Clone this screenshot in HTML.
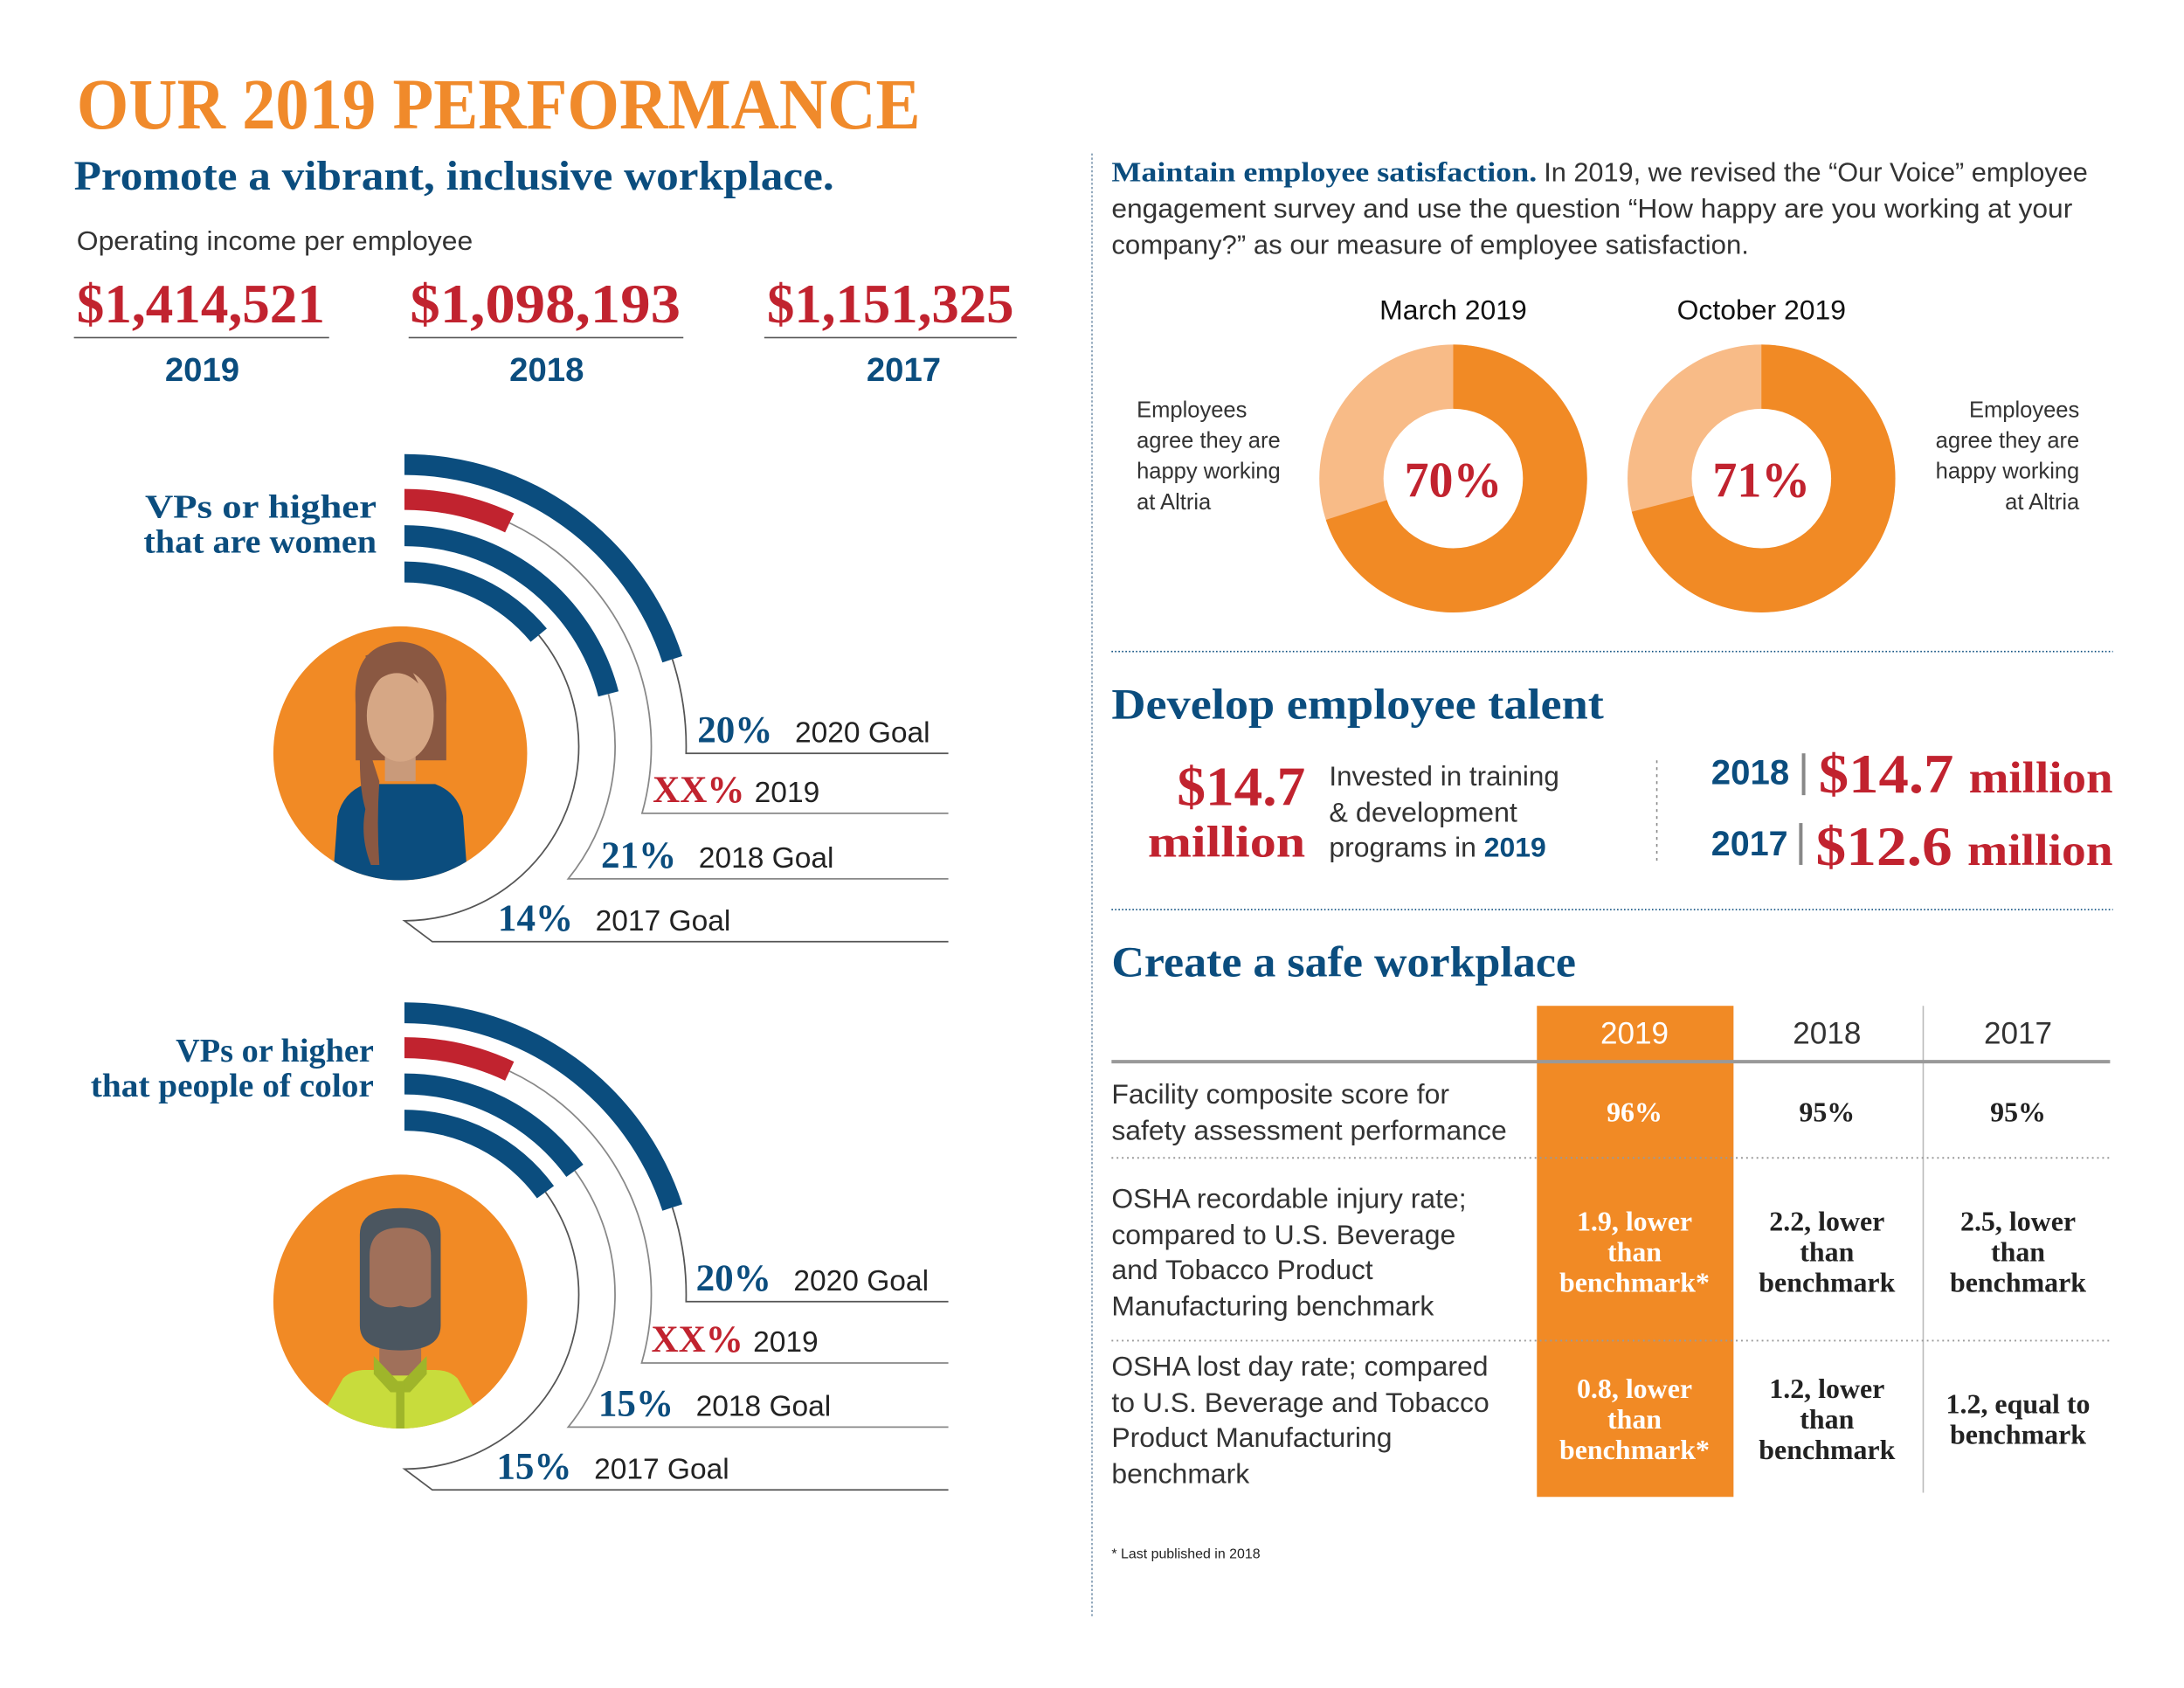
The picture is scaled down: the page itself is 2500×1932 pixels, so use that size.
<!DOCTYPE html>
<html><head><meta charset="utf-8"><style>
html,body{margin:0;padding:0;background:#fff;}
svg{display:block;}
.serif{font-family:"Liberation Serif",serif;font-weight:bold;}
.sans{font-family:"Liberation Sans",sans-serif;}
</style></head><body>
<svg id="root" width="2500" height="1932" viewBox="0 0 1566 1210" preserveAspectRatio="none" xmlns="http://www.w3.org/2000/svg">
<rect width="1566" height="1210" fill="#fff"/>
<text class="serif" x="55" y="92" font-size="52" fill="#F08A2B" textLength="605" lengthAdjust="spacingAndGlyphs">OUR 2019 PERFORMANCE</text>
<text class="serif" x="53" y="136" font-size="30" fill="#0B4D7E" textLength="545" lengthAdjust="spacingAndGlyphs">Promote a vibrant, inclusive workplace.</text>
<text class="sans" x="55" y="179" font-size="19" fill="#333" textLength="284" lengthAdjust="spacingAndGlyphs">Operating income per employee</text>
<g>
<text class="serif" x="55" y="231" font-size="40" fill="#C1232F" textLength="178" lengthAdjust="spacingAndGlyphs">$1,414,521</text>
<text class="serif" x="294" y="231" font-size="40" fill="#C1232F" textLength="194" lengthAdjust="spacingAndGlyphs">$1,098,193</text>
<text class="serif" x="550" y="231" font-size="40" fill="#C1232F" textLength="177" lengthAdjust="spacingAndGlyphs">$1,151,325</text>
<line x1="53" y1="242" x2="236" y2="242" stroke="#555" stroke-width="1"/>
<line x1="293" y1="242" x2="490" y2="242" stroke="#555" stroke-width="1"/>
<line x1="548" y1="242" x2="729" y2="242" stroke="#555" stroke-width="1"/>
<text class="sans" font-weight="bold" x="145" y="273" font-size="24" fill="#0B4D7E" text-anchor="middle">2019</text>
<text class="sans" font-weight="bold" x="392" y="273" font-size="24" fill="#0B4D7E" text-anchor="middle">2018</text>
<text class="sans" font-weight="bold" x="648" y="273" font-size="24" fill="#0B4D7E" text-anchor="middle">2017</text>
</g>
<text class="serif" x="270" y="371" font-size="24" fill="#0B4D7E" text-anchor="end" textLength="166" lengthAdjust="spacingAndGlyphs">VPs or higher</text>
<text class="serif" x="270" y="396" font-size="24" fill="#0B4D7E" text-anchor="end" textLength="167" lengthAdjust="spacingAndGlyphs">that are women</text>
<text class="serif" x="268" y="761" font-size="24" fill="#0B4D7E" text-anchor="end" textLength="142" lengthAdjust="spacingAndGlyphs">VPs or higher</text>
<text class="serif" x="268" y="786" font-size="24" fill="#0B4D7E" text-anchor="end" textLength="203" lengthAdjust="spacingAndGlyphs">that people of color</text>
<defs>
<clipPath id="c1"><circle cx="287" cy="540" r="91"/></clipPath>
<clipPath id="c2"><circle cx="287" cy="933" r="91"/></clipPath>
</defs>
<g>
<circle cx="287" cy="540" r="91" fill="#F18A25"/>
<g clip-path="url(#c1)">
<path d="M255 505 Q252 462 287 460 Q322 462 320 505 L320 545 L255 545 Z" fill="#8A5842"/>
<rect x="276" y="535" width="22" height="25" fill="#C99A7A"/>
<path d="M238 640 L242 585 Q246 568 262 562 L312 562 Q328 568 332 585 L336 640 Z" fill="#0B4D7E"/>
<ellipse cx="287" cy="513" rx="24" ry="33" fill="#D6A785"/>
<path d="M262 470 Q287 460 300 490 Q285 475 268 490 Z" fill="#8A5842"/>
<path d="M259 520 Q256 560 262 580 Q258 600 266 620 L272 620 Q270 590 272 560 Z" fill="#8A5842"/>
</g>
</g>
<g>
<circle cx="287" cy="933" r="91" fill="#F18A25"/>
<g clip-path="url(#c2)">
<path d="M222 1030 L246 988 Q252 982 262 982 L312 982 Q322 982 328 988 L352 1030 Z" fill="#C8DC3C"/>
<rect x="272" y="960" width="30" height="26" fill="#A0705A"/>
<path d="M268 972 L287 992 L306 972 L306 985 L294 998 L280 998 L268 985 Z" fill="#9FB52A"/>
<rect x="284" y="990" width="6" height="40" fill="#9FB52A"/>
<path d="M258 885 Q258 866 287 866 Q316 866 316 885 L316 950 Q316 968 287 968 Q258 968 258 950 Z" fill="#4B5660"/>
<path d="M265 900 Q265 880 287 880 Q309 880 309 900 L309 930 Q300 940 287 936 Q274 940 265 930 Z" fill="#A0705A"/>
</g>
</g>
<g id="charts"></g>
<line x1="783" y1="110" x2="783" y2="1160" stroke="#7a95ad" stroke-width="1" stroke-dasharray="1.5,1.5"/>
<g>
<text class="serif" x="797" y="130" font-size="20" fill="#0B4D7E" textLength="305" lengthAdjust="spacingAndGlyphs">Maintain employee satisfaction.</text>
<text class="sans" x="1107" y="130" font-size="19" fill="#333" textLength="390" lengthAdjust="spacingAndGlyphs">In 2019, we revised the “Our Voice” employee</text>
<text class="sans" x="797" y="156" font-size="19" fill="#333" textLength="689" lengthAdjust="spacingAndGlyphs">engagement survey and use the question “How happy are you working at your</text>
<text class="sans" x="797" y="182" font-size="19" fill="#333" textLength="457" lengthAdjust="spacingAndGlyphs">company?” as our measure of employee satisfaction.</text>
</g>
<g id="donuts"></g>
<g class="sans" font-size="16" fill="#333">
<text x="815" y="299">Employees</text><text x="815" y="321">agree they are</text><text x="815" y="343">happy working</text><text x="815" y="365">at Altria</text>
</g>
<g class="sans" font-size="16" fill="#333" text-anchor="end">
<text x="1491" y="299">Employees</text><text x="1491" y="321">agree they are</text><text x="1491" y="343">happy working</text><text x="1491" y="365">at Altria</text>
</g>
<line x1="797" y1="467" x2="1515" y2="467" stroke="#0B4D7E" stroke-width="1" stroke-dasharray="1,1.5"/>
<text class="serif" x="797" y="515" font-size="31" fill="#0B4D7E" textLength="353" lengthAdjust="spacingAndGlyphs">Develop employee talent</text>
<g>
<text class="serif" x="936" y="577" font-size="40" fill="#C1232F" text-anchor="end" textLength="92" lengthAdjust="spacingAndGlyphs">$14.7</text>
<text class="serif" x="936" y="614" font-size="32" fill="#C1232F" text-anchor="end" textLength="113" lengthAdjust="spacingAndGlyphs">million</text>
<text class="sans" x="953" y="563" font-size="20" fill="#333" textLength="165" lengthAdjust="spacingAndGlyphs">Invested in training</text>
<text class="sans" x="953" y="589" font-size="20" fill="#333" textLength="135" lengthAdjust="spacingAndGlyphs">&amp; development</text>
<text class="sans" x="953" y="614" font-size="20" fill="#333">programs in <tspan font-weight="bold" fill="#0B4D7E">2019</tspan></text>
</g>
<line x1="1188" y1="545" x2="1188" y2="620" stroke="#888" stroke-width="1" stroke-dasharray="2,3"/>
<g>
<text class="sans" font-weight="bold" x="1227" y="562" font-size="25" fill="#0B4D7E" textLength="56" lengthAdjust="spacingAndGlyphs">2018</text>
<rect x="1292" y="540" width="2.5" height="30" fill="#888"/>
<text class="serif" x="1304" y="568" font-size="40" fill="#C1232F" textLength="211" lengthAdjust="spacingAndGlyphs">$14.7 <tspan font-size="32">million</tspan></text>
<text class="sans" font-weight="bold" x="1227" y="613" font-size="25" fill="#0B4D7E" textLength="55" lengthAdjust="spacingAndGlyphs">2017</text>
<rect x="1290" y="590" width="2.5" height="30" fill="#888"/>
<text class="serif" x="1302" y="620" font-size="40" fill="#C1232F" textLength="213" lengthAdjust="spacingAndGlyphs">$12.6 <tspan font-size="32">million</tspan></text>
</g>
<line x1="797" y1="652" x2="1515" y2="652" stroke="#0B4D7E" stroke-width="1" stroke-dasharray="1,1.5"/>
<text class="serif" x="797" y="700" font-size="31" fill="#0B4D7E" textLength="333" lengthAdjust="spacingAndGlyphs">Create a safe workplace</text>
<g>
<rect x="1102" y="721" width="141" height="352" fill="#F18A25"/>
<line x1="1379" y1="721" x2="1379" y2="1070" stroke="#bbb" stroke-width="1"/>
<line x1="797" y1="761" x2="1513" y2="761" stroke="#999" stroke-width="2.5"/>
<g class="sans" font-size="22" text-anchor="middle">
<text x="1172" y="748" fill="#fff">2019</text><text x="1310" y="748" fill="#333">2018</text><text x="1447" y="748" fill="#333">2017</text>
</g>
<line x1="797" y1="830" x2="1513" y2="830" stroke="#999" stroke-width="1.2" stroke-dasharray="1.2,2.5"/>
<line x1="797" y1="961" x2="1513" y2="961" stroke="#999" stroke-width="1.2" stroke-dasharray="1.2,2.5"/>
<g class="sans" font-size="20" fill="#333">
<text x="797" y="791">Facility composite score for</text>
<text x="797" y="817">safety assessment performance</text>
<text x="797" y="866">OSHA recordable injury rate;</text>
<text x="797" y="892">compared to U.S. Beverage</text>
<text x="797" y="917">and Tobacco Product</text>
<text x="797" y="943">Manufacturing benchmark</text>
<text x="797" y="986">OSHA lost day rate; compared</text>
<text x="797" y="1012">to U.S. Beverage and Tobacco</text>
<text x="797" y="1037">Product Manufacturing</text>
<text x="797" y="1063">benchmark</text>
</g>
<g class="serif" font-size="20" text-anchor="middle">
<g fill="#fff">
<text x="1172" y="804">96%</text>
<text x="1172" y="882">1.9, lower</text><text x="1172" y="904">than</text><text x="1172" y="926">benchmark*</text>
<text x="1172" y="1002">0.8, lower</text><text x="1172" y="1024">than</text><text x="1172" y="1046">benchmark*</text>
</g>
<g fill="#222">
<text x="1310" y="804">95%</text><text x="1447" y="804">95%</text>
<text x="1310" y="882">2.2, lower</text><text x="1310" y="904">than</text><text x="1310" y="926">benchmark</text>
<text x="1447" y="882">2.5, lower</text><text x="1447" y="904">than</text><text x="1447" y="926">benchmark</text>
<text x="1310" y="1002">1.2, lower</text><text x="1310" y="1024">than</text><text x="1310" y="1046">benchmark</text>
<text x="1447" y="1013">1.2, equal to</text><text x="1447" y="1035">benchmark</text>
</g>
</g>
</g>
<text class="sans" x="797" y="1117" font-size="10" fill="#222">* Last published in 2018</text>
</svg>
<script>
const womenValues = [20, 7, 21, 14];
const womenLabels = ["20%", "XX%", "21%", "14%"];
const womenCaptions = ["2020 Goal", "2019", "2018 Goal", "2017 Goal"];
const pocValues = [20, 7, 15, 15];
const pocLabels = ["20%", "XX%", "15%", "15%"];
const pocCaptions = ["2020 Goal", "2019", "2018 Goal", "2017 Goal"];
const donutTitles = ["March 2019", "October 2019"];
const donutValues = [70, 71];

const NS = "http://www.w3.org/2000/svg";
function el(tag, attrs, parent) {
  const e = document.createElementNS(NS, tag);
  for (const k in attrs) e.setAttribute(k, attrs[k]);
  parent.appendChild(e);
  return e;
}
const degPerPct = 3.6;
function angleScale(v) { return v * degPerPct * Math.PI / 180; }
function pt(cx, cy, r, a) { return [cx + r * Math.sin(a), cy - r * Math.cos(a)]; }

function drawArcChart(name, cy, values, labels, captions, lineYs, labelXs) {
  const g = document.getElementById('charts');
  const grp = el('g', {}, g);
  
  
  const cx = 290, radii = [202, 177, 151, 125], w = 15;
  values.forEach((v, i) => {
    const r = radii[i], a = angleScale(v);
    const ro = r + w / 2, ri = r - w / 2;
    const p1 = pt(cx, cy, ro, 0), p2 = pt(cx, cy, ro, a), p3 = pt(cx, cy, ri, a), p4 = pt(cx, cy, ri, 0);
    const large = a > Math.PI ? 1 : 0;
    const bar = el('path', {
      d: `M${p1[0]},${p1[1]} A${ro},${ro} 0 ${large} 1 ${p2[0]},${p2[1]} L${p3[0]},${p3[1]} A${ri},${ri} 0 ${large} 0 ${p4[0]},${p4[1]} Z`,
      fill: i === 1 ? '#C1232F' : '#0B4D7E'
    }, grp);
    
    
    const ly = lineYs[i];
    const c = (cy - ly) / r;
    let d;
    const s = pt(cx, cy, r, a);
    if (c >= -1) {
      const e2 = Math.acos(c);
      const e = pt(cx, cy, r, e2);
      d = `M${s[0]},${s[1]} A${r},${r} 0 0 1 ${e[0]},${e[1]} L680,${ly}`;
    } else {
      const e = pt(cx, cy, r, Math.PI);
      d = `M${s[0]},${s[1]} A${r},${r} 0 0 1 ${e[0]},${e[1]} L${cx + 20},${ly} L680,${ly}`;
    }
    const ln = el('path', { d: d, fill: 'none', stroke: i === 0 || i === 3 ? '#555' : '#888', 'stroke-width': 1.1 }, grp);
    
    
    const t = el('text', { x: labelXs[i], y: ly - 8, 'font-size': 27, fill: i === 1 ? '#C1232F' : '#0B4D7E', 'font-family': '"Liberation Serif",serif', 'font-weight': 'bold' }, grp);
    t.textContent = labels[i];
    
    
    const t2 = el('text', { x: labelXs[i] + (i === 1 ? 73 : 70), y: ly - 8, 'font-size': 21, fill: '#222', 'font-family': '"Liberation Sans",sans-serif' }, grp);
    t2.textContent = captions[i];
    
    
  });
}
drawArcChart('women-vp-chart', 535, womenValues, womenLabels, womenCaptions, [540, 583, 630, 675], [500, 468, 431, 357]);
drawArcChart('poc-vp-chart', 928, pocValues, pocLabels, pocCaptions, [933, 977, 1023, 1068], [499, 467, 429, 356]);

function drawDonuts() {
  const g = document.getElementById('donuts');
  const centers = [1042, 1263], cy = 343, R = 96, r = 50;
  donutValues.forEach((v, i) => {
    const cx = centers[i];
    const grp = el('g', {}, g);
    
    
    const title = el('text', { x: cx, y: 229, 'text-anchor': 'middle', 'font-size': 20, fill: '#111', 'font-family': '"Liberation Sans",sans-serif' }, grp);
    title.textContent = donutTitles[i];
    
    
    const bg = el('circle', { cx: cx, cy: cy, r: R, fill: '#F8BB87' }, grp);
    
    
    const a = v / 100 * 2 * Math.PI;
    const p = pt(cx, cy, R, a);
    const sl = el('path', { d: `M${cx},${cy} L${cx},${cy - R} A${R},${R} 0 ${a > Math.PI ? 1 : 0} 1 ${p[0]},${p[1]} Z`, fill: '#F18A25' }, grp);
    
    
    el('circle', { cx: cx, cy: cy, r: r, fill: '#fff' }, grp);
    const t = el('text', { x: cx, y: cy + 13, 'text-anchor': 'middle', 'font-size': 36, fill: '#C1232F', 'font-family': '"Liberation Serif",serif', 'font-weight': 'bold', textLength: 70, lengthAdjust: 'spacingAndGlyphs' }, grp);
    t.textContent = v + '%';
    
    
  });
}
drawDonuts();
</script>
</body></html>
